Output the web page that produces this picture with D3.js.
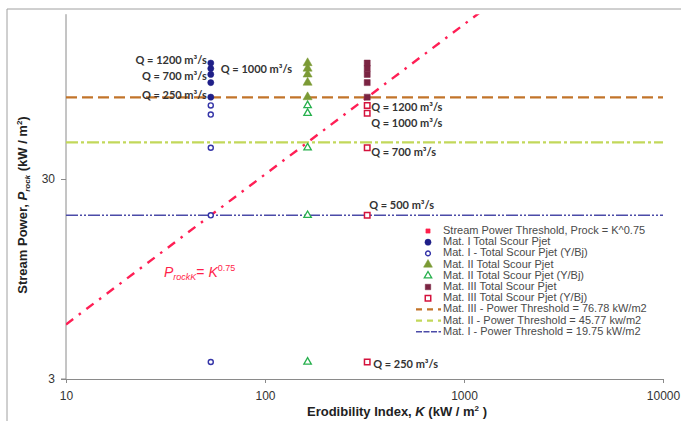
<!DOCTYPE html>
<html><head><meta charset="utf-8">
<script src="https://cdn.jsdelivr.net/npm/d3@7"></script>
<style>body{margin:0;background:#fff}svg{display:block}</style>
</head><body>
<svg id="c" width="681" height="421"></svg>
<script>
// ---- data ----
const flows = [250, 500, 700, 1000, 1200];
const kMat = [53.4, 163.7, 326.3];           // erodibility index of Mat I, II, III
const matITotal = [77, 91, 100, 107, 114];
const matIYBj   = [3.65, 19.75, 43, 63, 70];
const matIITotal = [77, 91, 100, 107, 114];
const matIIYBj   = [3.65, 19.75, 43, 64, 70];
const matIIITotal = [77, 91, 100, 107, 114];
const matIIIYBj   = [3.65, 19.75, 43, 64, 70];
const thresholds = [76.78, 45.77, 19.75];     // Mat III, II, I
const exponent = 0.75;
const xTicks = [10, 100, 1000, 10000];
const yTicks = [3, 30];
const legendLabels = [
  "Stream Power Threshold, Prock = K^0.75",
  "Mat. I Total Scour Pjet",
  "Mat. I - Total Scour Pjet (Y/Bj)",
  "Mat. II Total Scour Pjet",
  "Mat. II Total Scour Pjet (Y/Bj)",
  "Mat. III Total Scour Pjet",
  "Mat. III Total Scour Pjet (Y/Bj)",
  "Mat. III - Power Threshold = 76.78 kW/m2",
  "Mat. II - Power Threshold = 45.77 kw/m2",
  "Mat. I - Power Threshold = 19.75 kW/m2"
];

const svg = d3.select("#c");
const L = 66, R = 663, B = 379;
const x = d3.scaleLog().domain([10, 10000]).range([L, R]);
const y = d3.scaleLog().domain([3, 200]).range([B, B - 200 * Math.log10(200 / 3)]);
const T = y(200);

// outer frame
svg.append("line").attr("x1", 7).attr("x2", 681).attr("y1", 9).attr("y2", 9).attr("stroke", "#a0a0a0");
svg.append("line").attr("x1", 7).attr("x2", 7).attr("y1", 9).attr("y2", 421).attr("stroke", "#a0a0a0");

// axes
const xa = svg.append("g").attr("transform", `translate(0,${B})`)
  .call(d3.axisBottom(x).tickValues(xTicks).tickFormat(d3.format("d")).tickSize(4).tickPadding(8));
const ya = svg.append("g").attr("transform", `translate(${L},0)`)
  .call(d3.axisLeft(y).tickValues(yTicks).tickFormat(d3.format("d")).tickSize(5).tickPadding(6));
[xa, ya].forEach(a => {
  a.select(".domain").attr("stroke", "#8a8a8a");
  a.selectAll(".tick line").attr("stroke", "#8a8a8a");
  a.selectAll("text").attr("font-family", "Liberation Sans, Arial, sans-serif").attr("font-size", 12).attr("fill", "#333");
});
ya.select(".domain").attr("d", `M-5,${B}H0V${T}`);

const clip = svg.append("defs").append("clipPath").attr("id", "pc")
  .append("rect").attr("x", L).attr("y", T).attr("width", R - L).attr("height", B - T);
const plot = svg.append("g").attr("clip-path", "url(#pc)");

// threshold lines
const thrStyle = [
  {c: "#c2742a", w: 2.2, d: "11,5"},
  {c: "#c2d85a", w: 2.2, d: "12,3,3,3"},
  {c: "#4b4ba8", w: 1.6, d: "12,2,2,2,2,2"}
];
thresholds.forEach((t, i) => {
  plot.append("line").attr("x1", L).attr("x2", R).attr("y1", y(t)).attr("y2", y(t))
    .attr("stroke", thrStyle[i].c).attr("stroke-width", thrStyle[i].w).attr("stroke-dasharray", thrStyle[i].d);
});

// stream power line P = K^0.75
const kLine = [10, 10000];
plot.append("path")
  .attr("d", d3.line().x(k => x(k)).y(k => y(Math.pow(k, exponent)))(kLine))
  .attr("fill", "none").attr("stroke", "#ff1f55").attr("stroke-width", 2.4).attr("stroke-dasharray", "9,7,2.5,7");

// markers
const sym = (type, size) => d3.symbol().type(type).size(size)();
function drawSeries(k, vals, type, size, fill, stroke, sw) {
  vals.forEach(v => {
    plot.append("path").attr("d", sym(type, size))
      .attr("transform", `translate(${x(k)},${y(v)})`)
      .attr("fill", fill).attr("stroke", stroke).attr("stroke-width", sw);
  });
}
drawSeries(kMat[0], matIYBj, d3.symbolCircle, 20, "#fff", "#3535a8", 1.4);
drawSeries(kMat[0], matITotal, d3.symbolCircle, 30, "#1f1f88", "#1f1f88", 0.5);
drawSeries(kMat[1], matIIYBj, d3.symbolTriangle, 24, "#fff", "#27b04d", 1.3);
drawSeries(kMat[1], matIITotal, d3.symbolTriangle, 36, "#7b9a35", "#7b9a35", 0.5);
drawSeries(kMat[2], matIIIYBj, d3.symbolSquare, 30, "#fff", "#d4123c", 1.5);
drawSeries(kMat[2], matIIITotal, d3.symbolSquare, 36, "#7a2442", "#7a2442", 0.5);

// Q annotations
const qf = "Lato, 'Open Sans', sans-serif";
function qLabel(txt, xx, yy, anchor) {
  svg.append("text").attr("x", xx).attr("y", yy).attr("text-anchor", anchor)
    .attr("dominant-baseline", "middle").attr("font-family", qf).attr("font-weight", "bold")
    .attr("font-size", 11).attr("fill", "#333").text(txt);
}
const qTxt = q => `Q = ${q} m³/s`;
qLabel(qTxt(flows[4]), x(kMat[0]) - 4, 61, "end");
qLabel(qTxt(flows[2]), x(kMat[0]) - 4, 77, "end");
qLabel(qTxt(flows[0]), x(kMat[0]) - 4, 96, "end");
qLabel(qTxt(flows[3]), x(kMat[0]) + 10, 70, "start");
qLabel(qTxt(flows[4]), x(kMat[2]) + 4, 108, "start");
qLabel(qTxt(flows[3]), x(kMat[2]) + 4, 124, "start");
qLabel(qTxt(flows[2]), x(kMat[2]) + 4, 153, "start");
qLabel(qTxt(flows[1]), x(kMat[2]) + 2, 206, "start");
qLabel(qTxt(flows[0]), x(kMat[2]) + 6, 365, "start");

// P_rockK = K^0.75 annotation
const pa = svg.append("text").attr("x", 164).attr("y", 277).attr("fill", "#ff1f4a")
  .attr("font-family", "Liberation Sans, Arial, sans-serif").attr("font-size", 14);
pa.append("tspan").attr("font-style", "italic").text("P");
pa.append("tspan").attr("font-style", "italic").attr("font-size", 9).attr("dy", 3).text("rockK");
pa.append("tspan").attr("dy", -3).text("= ");
pa.append("tspan").attr("font-style", "italic").text("K");
pa.append("tspan").attr("font-size", 9).attr("dy", -6).text("0.75");

// axis titles
const af = "Liberation Sans, Arial, sans-serif";
const xt = svg.append("text").attr("x", 397).attr("y", 416).attr("text-anchor", "middle")
  .attr("font-family", af).attr("font-weight", "bold").attr("font-size", 13).attr("fill", "#222");
xt.append("tspan").text("Erodibility Index, ");
xt.append("tspan").attr("font-style", "italic").text("K");
xt.append("tspan").text(" (kW / m");
xt.append("tspan").attr("font-size", 8).attr("dy", -5).text("2");
xt.append("tspan").attr("dy", 5).text(" )");

const yt = svg.append("text").attr("transform", "translate(27,205) rotate(-90)").attr("text-anchor", "middle")
  .attr("font-family", af).attr("font-weight", "bold").attr("font-size", 13).attr("fill", "#222");
yt.append("tspan").text("Stream Power, ");
yt.append("tspan").attr("font-style", "italic").text("P");
yt.append("tspan").attr("font-style", "italic").attr("font-size", 8).attr("dy", 3).text("rock");
yt.append("tspan").attr("dy", -3).text("  (kW / m");
yt.append("tspan").attr("font-size", 8).attr("dy", -5).text("2");
yt.append("tspan").attr("dy", 5).text(")");

// legend
const lg = svg.append("g");
const ly0 = 231, ldy = 11.2, lmx = 428, ltx = 443;
legendLabels.forEach((t, i) => {
  const yy = ly0 + i * ldy;
  lg.append("text").attr("x", ltx).attr("y", yy).attr("dominant-baseline", "middle")
    .attr("font-family", af).attr("font-size", 11).attr("fill", "#4a4a4a").text(t);
});
const lsym = [
  {t: d3.symbolSquare, s: 18, f: "#ff1f4a", st: "#ff1f4a", w: 0.5},
  {t: d3.symbolCircle, s: 30, f: "#1f1f88", st: "#1f1f88", w: 0.5},
  {t: d3.symbolCircle, s: 18, f: "#fff", st: "#3535a8", w: 1.4},
  {t: d3.symbolTriangle, s: 34, f: "#7b9a35", st: "#7b9a35", w: 0.5},
  {t: d3.symbolTriangle, s: 24, f: "#fff", st: "#27b04d", w: 1.3},
  {t: d3.symbolSquare, s: 30, f: "#7a2442", st: "#7a2442", w: 0.5},
  {t: d3.symbolSquare, s: 30, f: "#fff", st: "#d4123c", w: 1.5}
];
lsym.forEach((s, i) => {
  lg.append("path").attr("d", sym(s.t, s.s)).attr("transform", `translate(${lmx},${ly0 + i * ldy})`)
    .attr("fill", s.f).attr("stroke", s.st).attr("stroke-width", s.w);
});
thrStyle.forEach((s, i) => {
  const yy = ly0 + (7 + i) * ldy;
  lg.append("line").attr("x1", 416).attr("x2", 441).attr("y1", yy).attr("y2", yy)
    .attr("stroke", s.c).attr("stroke-width", s.w).attr("stroke-dasharray", i === 2 ? "6,1.5" : "6,5");
});
</script>
</body></html>
